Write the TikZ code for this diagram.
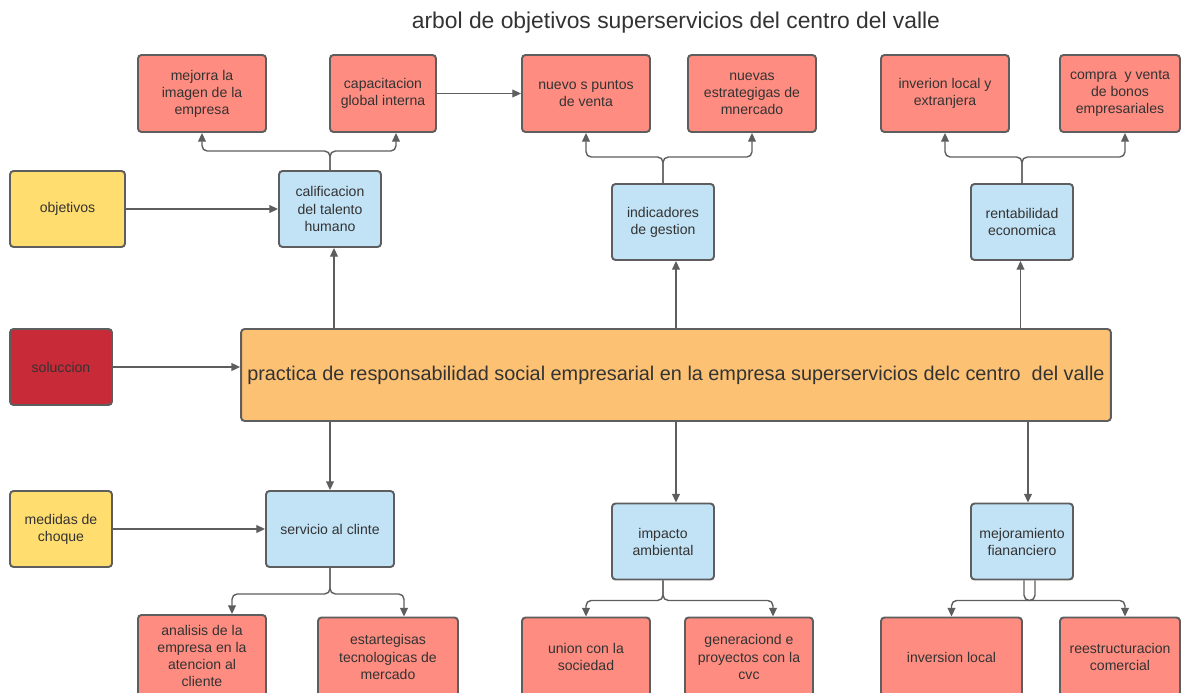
\documentclass[tikz,border=0pt]{standalone}
\usepackage{fontspec}
\setmainfont{Liberation Sans}
\usepackage{tikz}
\usetikzlibrary{arrows.meta,calc}
\definecolor{linegray}{HTML}{5E5E5E}
\definecolor{txtgray}{HTML}{333333}
\definecolor{redfill}{HTML}{FF8C80}
\definecolor{bluefill}{HTML}{C2E3F6}
\definecolor{yellowfill}{HTML}{FFDD6E}
\definecolor{darkred}{HTML}{C82A38}
\definecolor{orangefill}{HTML}{FDC173}
\tikzset{
	box/.style={draw=linegray, line width=1.1pt, rounded corners=2pt, align=center, text=txtgray, inner sep=2pt, font=\fontsize{8}{9.7}\selectfont},
	redbox/.style={box, fill=redfill, minimum width=2.56cm, minimum height=1.54cm},
	bluebox/.style={box, fill=bluefill, minimum width=2.04cm, minimum height=1.52cm},
	yellowbox/.style={box, fill=yellowfill, minimum width=2.04cm, minimum height=1.52cm},
	lowbox/.style={redbox, minimum height=1.58cm},
	arr/.style={draw=linegray, line width=0.8pt, rounded corners=3pt, -{Triangle[length=5pt,width=4.5pt]}},
	link/.style={draw=linegray, line width=0.8pt, rounded corners=3pt}
}

\begin{document}
\begin{tikzpicture}[x=0.02cm, y=-0.02cm]
			%%%%% START %%%%%
			\useasboundingbox (0, 0) rectangle (1181, 693);
			
			\node[text=txtgray, font=\fontsize{13}{15.6}\selectfont] (title) at (676, 23) {arbol de objetivos superservicios del centro del valle};
			
			% top row
			\node[redbox] (mejorra) at (202, 93.5) {mejorra la\\imagen de la\\empresa};
			\node[redbox, minimum width=2.12cm] (capac) at (383, 93.5) {capacitacion\\global interna};
			\node[redbox] (puntos) at (586, 93.5) {nuevo s puntos\\de venta};
			\node[redbox] (nuevas) at (752, 93.5) {nuevas\\estrategigas de\\mnercado};
			\node[redbox] (inverion) at (945, 93.5) {inverion local y\\extranjera};
			\node[redbox, minimum width=2.4cm] (compra) at (1120, 93.5) {compra~ y venta\\de bonos\\empresariales};
			
			\node[bluebox] (calif) at (330, 209) {calificacion\\del talento\\humano};
			\node[bluebox] (indic) at (663, 222) {indicadores\\de gestion};
			\node[bluebox] (rentab) at (1022, 222) {rentabilidad\\economica};
			\node[yellowbox, minimum width=2.3cm] (objet) at (67.5, 209) {objetivos};
			
			% middle
			\node[box, fill=darkred, minimum width=2.04cm, minimum height=1.52cm] (soluc) at (61, 367) {soluccion};
			\node[box, fill=orangefill, minimum width=17.4cm, minimum height=1.84cm, font=\fontsize{11.3}{13.5}\selectfont] (main) at (676, 375) {practica de responsabilidad social empresarial en la empresa superservicios delc centro~ del valle};
			
			% bottom row
			\node[yellowbox] (medidas) at (61, 529) {medidas de\\choque};
			\node[bluebox, minimum width=2.56cm] (servicio) at (330, 529) {servicio al clinte};
			\node[bluebox] (impacto) at (663, 541.5) {impacto\\ambiental};
			\node[bluebox] (mejora) at (1022, 541.5) {mejoramiento\\fiananciero};
			
			\node[lowbox, minimum height=1.64cm] (analisis) at (202, 656) {analisis de la\\empresa en la\\atencion al\\cliente};
			\node[lowbox, minimum width=2.8cm] (estart) at (388, 657) {estartegisas\\tecnologicas de\\mercado};
			\node[lowbox] (union) at (586, 657) {union con la\\sociedad};
			\node[lowbox] (gener) at (749, 657) {generaciond e\\proyectos con la\\cvc};
			\node[lowbox, minimum width=2.82cm] (invloc) at (951.5, 657) {inversion local};
			\node[lowbox, minimum width=2.4cm] (reest) at (1120, 657) {reestructuracion\\comercial};
			
			% side arrows
			\draw[arr] (objet) -- (calif);
			\draw[arr] (soluc) -- (soluc -| main.west);
			\draw[arr] (medidas) -- (medidas -| servicio.west);
			\draw[arr] (capac.east |- puntos) -- (puntos.west);
			
			% from the centre box
			\draw[arr] ([xshift=0.08cm]calif.south |- main.north) -- ([xshift=0.08cm]calif.south);
			\draw[arr] ([xshift=0.26cm]indic.south |- main.north) -- ([xshift=0.26cm]indic.south);
			\draw[arr] ([xshift=-0.03cm]rentab.south |- main.north) -- ([xshift=-0.03cm]rentab.south);
			\draw[arr] (servicio.north |- main.south) -- (servicio.north);
			\draw[arr] ([xshift=0.26cm]impacto.north |- main.south) -- ([xshift=0.26cm]impacto.north);
			\draw[arr] ([xshift=0.12cm]mejora.north |- main.south) -- ([xshift=0.12cm]mejora.north);
			
			% splits
			\draw[arr] (calif.north) -- ++(0, -19) -| (mejorra.south);
			\draw[arr] (calif.north) -- ++(0, -19) -| ([xshift=0.26cm]capac.south);
			\draw[arr] (indic.north) -- ++(0, -26) -| (puntos.south);
			\draw[arr] (indic.north) -- ++(0, -26) -| (nuevas.south);
			\draw[arr] (rentab.north) -- ++(0, -26) -| (inverion.south);
			\draw[arr] (rentab.north) -- ++(0, -26) -| ([xshift=0.1cm]compra.south);
			
			\draw[arr] (servicio.south) -- ++(0, 26) -| ([xshift=0.6cm]analisis.north);
			\draw[arr] (servicio.south) -- ++(0, 26) -| ([xshift=0.32cm]estart.north);
			\draw[arr] (impacto.south) -- ++(0, 20) -| (union.north);
			\draw[arr] (impacto.south) -- ++(0, 20) -| ([xshift=0.48cm]gener.north);
			\draw[arr] ([xshift=0.26cm]mejora.south) -- ++(0, 20) -| (invloc.north);
			\draw[arr] ([xshift=0.04cm]mejora.south) -- ++(0, 20) -| ([xshift=0.1cm]reest.north);
			
			%%%%% END %%%%%
		\end{tikzpicture}
\end{document}
